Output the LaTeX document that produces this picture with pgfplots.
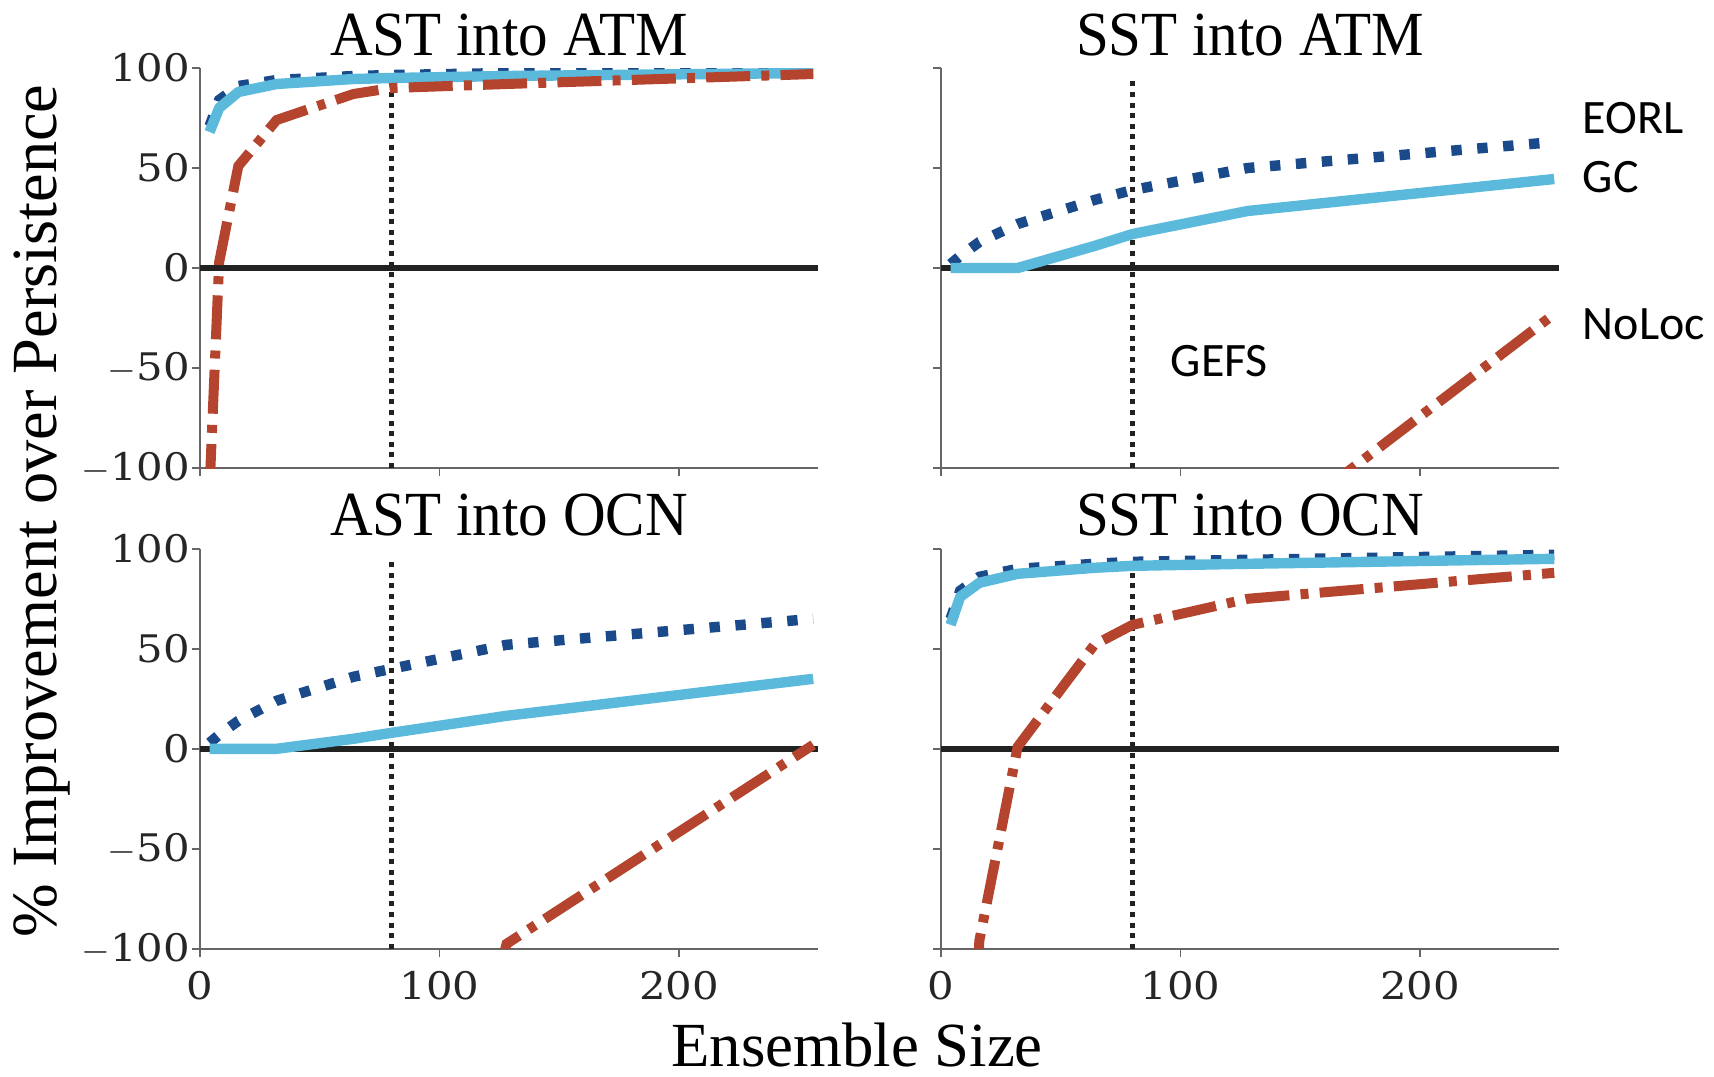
\documentclass[border=0pt]{standalone}
\usepackage{fontspec}
\setmainfont{Liberation Serif}
\newfontfamily\tickfont[FakeStretch=1.1]{DejaVu Serif}
\newfontfamily\titlefont[FakeStretch=0.94]{Liberation Serif}
\newfontfamily\annfont{Carlito}
\usepackage{pgfplots}
\pgfplotsset{compat=1.18}
\definecolor{eorl}{HTML}{1B4A8A}
\definecolor{gc}{HTML}{5BBADC}
\definecolor{noloc}{HTML}{B4442D}
\definecolor{axisgray}{HTML}{666666}
\definecolor{zeroc}{HTML}{222222}
\pgfplotsset{
  panel/.style={
    width=154.5pt, height=100pt, scale only axis,
    xmin=0, xmax=258, ymin=-100, ymax=100,
    axis x line*=bottom, axis y line*=left,
    axis line style={-, draw=axisgray, line width=0.4pt},
    tick align=outside, major tick length=2pt,
    tick style={draw=axisgray, line width=0.4pt},
    xtick={0,100,200}, ytick={-100,-50,0,50,100},
    xticklabels={0,100,200},
    yticklabels={$-$100,$-$50,0,50,100},
    tick label style={font=\tickfont\fontsize{9.5}{11}\selectfont, color=black!85},
    yticklabel style={xshift=3pt},
    anchor=south west,
  },
  eorlst/.style={color=eorl, line width=2.6pt, dash pattern=on 2.6pt off 3.9pt},
  gcst/.style={color=gc, line width=2.6pt, line join=round},
  nolocst/.style={color=noloc, line width=2.5pt, dash pattern=on 11pt off 2.8pt on 2pt off 2.8pt},
  zerost/.style={color=zeroc, line width=1.5pt},
  gefsst/.style={color=zeroc, line width=1.25pt, dash pattern=on 1.25pt off 1.4pt},
}
\begin{document}
\begin{tikzpicture}
\path[use as bounding box] (0,0) rectangle (428.5pt,269pt);

% AST into ATM
\begin{axis}[panel, at={(50pt,152pt)}, xticklabels={}]
\addplot[gefsst] coordinates {(80,-100) (80,94)};
\addplot[zerost] coordinates {(0,0) (258,0)};
\addplot[eorlst] coordinates {(4,71) (8,84) (16,91) (32,94) (64,96) (80,96.5) (128,97.5) (256,99)};
\addplot[gcst] coordinates {(4,68) (8,80) (16,88) (32,92) (64,94.5) (80,95) (128,96) (256,97.5)};
\addplot[nolocst] coordinates {(4,-110) (8,3) (16,51) (32,74) (64,87) (80,90) (128,92) (256,97)};
\end{axis}

% SST into ATM
\begin{axis}[panel, at={(235.25pt,152pt)}, xticklabels={}, yticklabels={}]
\addplot[gefsst] coordinates {(80,-100) (80,94)};
\addplot[zerost] coordinates {(0,0) (258,0)};
\addplot[eorlst] coordinates {(4,2) (8,6) (16,13) (32,22) (64,34) (80,39) (128,50) (256,63)};
\addplot[gcst] coordinates {(4,0) (8,0) (16,0) (32,0) (64,11) (80,17) (128,28.5) (256,44.5)};
\addplot[nolocst] coordinates {(64,-300) (80,-260) (128,-140) (256,-23)};
\end{axis}

% AST into OCN
\begin{axis}[panel, at={(50pt,31.8pt)}]
\addplot[gefsst] coordinates {(80,-100) (80,96)};
\addplot[zerost] coordinates {(0,0) (258,0)};
\addplot[eorlst] coordinates {(4,3) (8,7) (16,14) (32,24) (64,36) (80,40) (128,52) (256,65)};
\addplot[gcst] coordinates {(4,0) (8,0) (16,0) (32,0) (64,5) (80,8) (128,16.5) (256,35)};
\addplot[nolocst] coordinates {(64,-400) (80,-320) (128,-97.5) (256,2)};
\end{axis}

% SST into OCN
\begin{axis}[panel, at={(235.25pt,31.8pt)}, yticklabels={}]
\addplot[gefsst] coordinates {(80,-100) (80,95)};
\addplot[zerost] coordinates {(0,0) (258,0)};
\addplot[eorlst] coordinates {(4,65) (8,79) (16,86) (32,90) (64,92.5) (80,93.5) (128,94.5) (256,97)};
\addplot[gcst] coordinates {(4,62) (8,76) (16,83) (32,87.5) (64,90.5) (80,91.5) (128,92.5) (256,95)};
\addplot[nolocst] coordinates {(8,-300) (16,-96) (32,1) (64,52) (80,62) (128,75) (256,88)};
\end{axis}

\begin{scope}[every node/.style={inner sep=0pt}]
\node[anchor=base, font=\titlefont\fontsize{15.7}{18}\selectfont] at (127.25pt,255.25pt) {AST into ATM};
\node[anchor=base, font=\titlefont\fontsize{15.7}{18}\selectfont] at (312.5pt,255.25pt) {SST into ATM};
\node[anchor=base, font=\titlefont\fontsize{15.7}{18}\selectfont] at (127.25pt,135.1pt) {AST into OCN};
\node[anchor=base, font=\titlefont\fontsize{15.7}{18}\selectfont] at (312.5pt,135.1pt) {SST into OCN};
\node[rotate=90, font=\fontsize{16.1}{18}\selectfont] at (10.4pt,141.25pt) {\% Improvement over Persistence};
\node[anchor=base, font=\fontsize{15.7}{18}\selectfont] at (214.25pt,2.3pt) {Ensemble Size};
\node[anchor=west, font=\annfont\fontsize{12}{14}\selectfont] at (395.5pt,239.5pt) {EORL};
\node[anchor=west, font=\annfont\fontsize{12}{14}\selectfont] at (395.5pt,224.75pt) {GC};
\node[anchor=west, font=\annfont\fontsize{12}{14}\selectfont] at (395.5pt,188pt) {NoLoc};
\node[anchor=west, font=\annfont\fontsize{12}{14}\selectfont] at (292.5pt,178.75pt) {GEFS};
\end{scope}
\end{tikzpicture}
\end{document}
